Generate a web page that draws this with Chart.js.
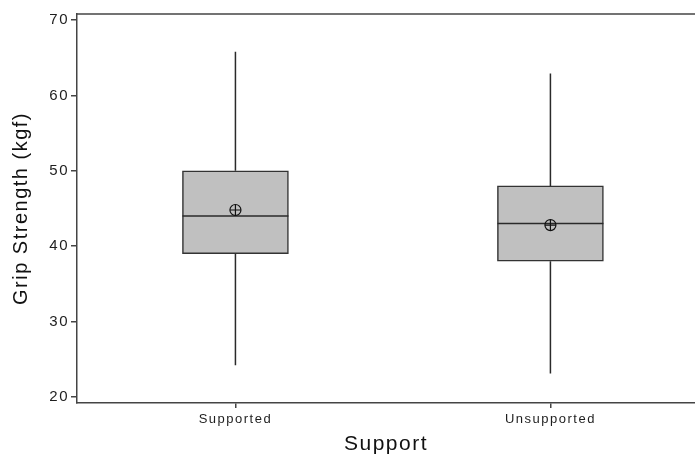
<!DOCTYPE html>
<html>
<head>
<meta charset="utf-8">
<script src="https://cdn.jsdelivr.net/npm/chart.js@4/dist/chart.umd.min.js"></script>
<style>
  html, body { margin: 0; padding: 0; background: #ffffff; }
  canvas { display: block; }
</style>
</head>
<body>
<canvas id="chart" width="695" height="460"></canvas>
<script>
// Grip strength by support condition (box = quartiles, line = median, ⊕ = mean)
const categories  = ['Supported', 'Unsupported'];
const positions   = [1, 2];
const whiskerLow  = [24.2, 23.1];
const q1          = [39, 38];
const median      = [44, 43];
const q3          = [50, 48];
const whiskerHigh = [65.8, 62.9];
const mean        = [44.8, 42.8];
const yTicks      = [20, 30, 40, 50, 60, 70];

const FONT = '"Liberation Sans", Arial, Helvetica, sans-serif';
const AXIS_COLOR = '#444444';
const TEXT_COLOR = '#1e1e1e';

// Whiskers, median lines and the top frame edge
const boxDetail = {
  id: 'boxDetail',
  beforeDraw(chart) {
    chart.ctx.letterSpacing = '1.5px';
  },
  afterDatasetDraw(chart, args) {
    if (args.index !== 0) return;
    const { ctx, scales: { x, y } } = chart;
    const meta = chart.getDatasetMeta(0);
    ctx.save();
    ctx.strokeStyle = '#2a2a2a';
    ctx.lineWidth = 1.5;
    meta.data.forEach((bar, i) => {
      const cx = x.getPixelForValue(positions[i]);
      ctx.beginPath();
      ctx.moveTo(cx, y.getPixelForValue(q3[i]));
      ctx.lineTo(cx, y.getPixelForValue(whiskerHigh[i]));
      ctx.moveTo(cx, y.getPixelForValue(q1[i]));
      ctx.lineTo(cx, y.getPixelForValue(whiskerLow[i]));
      ctx.stroke();
      const half = bar.width / 2;
      const my = y.getPixelForValue(median[i]);
      ctx.beginPath();
      ctx.moveTo(cx - half, my);
      ctx.lineTo(cx + half, my);
      ctx.stroke();
    });
    ctx.restore();
  },
  afterDraw(chart) {
    const { ctx, chartArea } = chart;
    ctx.save();
    ctx.strokeStyle = AXIS_COLOR;
    ctx.lineWidth = 1.5;
    ctx.beginPath();
    ctx.moveTo(chartArea.left, chartArea.top);
    ctx.lineTo(chartArea.right, chartArea.top);
    ctx.stroke();
    ctx.restore();
  }
};

const meanPoints = positions.map((p, i) => ({ x: p, y: mean[i] }));

new Chart(document.getElementById('chart'), {
  type: 'bar',
  data: {
    datasets: [
      {
        type: 'bar',
        data: positions.map((p, i) => ({ x: p, y: [q1[i], q3[i]] })),
        backgroundColor: '#c0c0c0',
        borderColor: '#333333',
        borderWidth: 1.5,
        borderSkipped: false,
        barThickness: 106,
        order: 2
      },
      {
        type: 'scatter',
        data: meanPoints,
        pointStyle: 'circle',
        radius: 5.5,
        backgroundColor: 'rgba(0,0,0,0)',
        borderColor: '#111111',
        borderWidth: 1.2,
        order: 1
      },
      {
        type: 'scatter',
        data: meanPoints,
        pointStyle: 'cross',
        radius: 5.5,
        borderColor: '#111111',
        borderWidth: 1.2,
        order: 0
      }
    ]
  },
  options: {
    responsive: false,
    animation: false,
    events: [],
    layout: { autoPadding: false, padding: { top: 14, right: 0, bottom: 0, left: 0 } },
    plugins: {
      legend: { display: false },
      tooltip: { enabled: false }
    },
    scales: {
      x: {
        type: 'linear',
        min: 0.497,
        max: 2.459,
        offset: false,
        afterBuildTicks: s => { s.ticks = positions.map(v => ({ value: v })); },
        afterFit: s => { s.height = 57; s.paddingLeft = 0; s.paddingRight = 0; },
        ticks: {
          callback: v => categories[positions.indexOf(v)] ?? '',
          font: { family: FONT, size: 13 },
          color: TEXT_COLOR,
          padding: 4,
          maxRotation: 0,
          autoSkip: false
        },
        grid: {
          display: true,
          drawOnChartArea: false,
          drawTicks: true,
          tickLength: 5,
          color: AXIS_COLOR,
          lineWidth: 1.5,
          offset: false
        },
        border: { display: true, color: AXIS_COLOR, width: 1.5 },
        title: {
          display: true,
          text: 'Support',
          font: { family: FONT, size: 21 },
          color: '#111111',
          padding: { top: 0, bottom: 3 }
        }
      },
      y: {
        type: 'linear',
        min: 19.2,
        max: 70.8,
        afterBuildTicks: s => { s.ticks = yTicks.map(v => ({ value: v })); },
        afterFit: s => { s.width = 77; s.paddingTop = 0; s.paddingBottom = 0; },
        ticks: {
          font: { family: FONT, size: 15 },
          color: TEXT_COLOR,
          padding: 2
        },
        grid: {
          display: true,
          drawOnChartArea: false,
          drawTicks: true,
          tickLength: 6,
          color: AXIS_COLOR,
          lineWidth: 1.5
        },
        border: { display: true, color: AXIS_COLOR, width: 1.5 },
        title: {
          display: true,
          text: 'Grip Strength (kgf)',
          font: { family: FONT, size: 20 },
          color: '#111111',
          padding: { top: 9, bottom: 0 }
        }
      }
    }
  },
  plugins: [boxDetail]
});
</script>
</body>
</html>
